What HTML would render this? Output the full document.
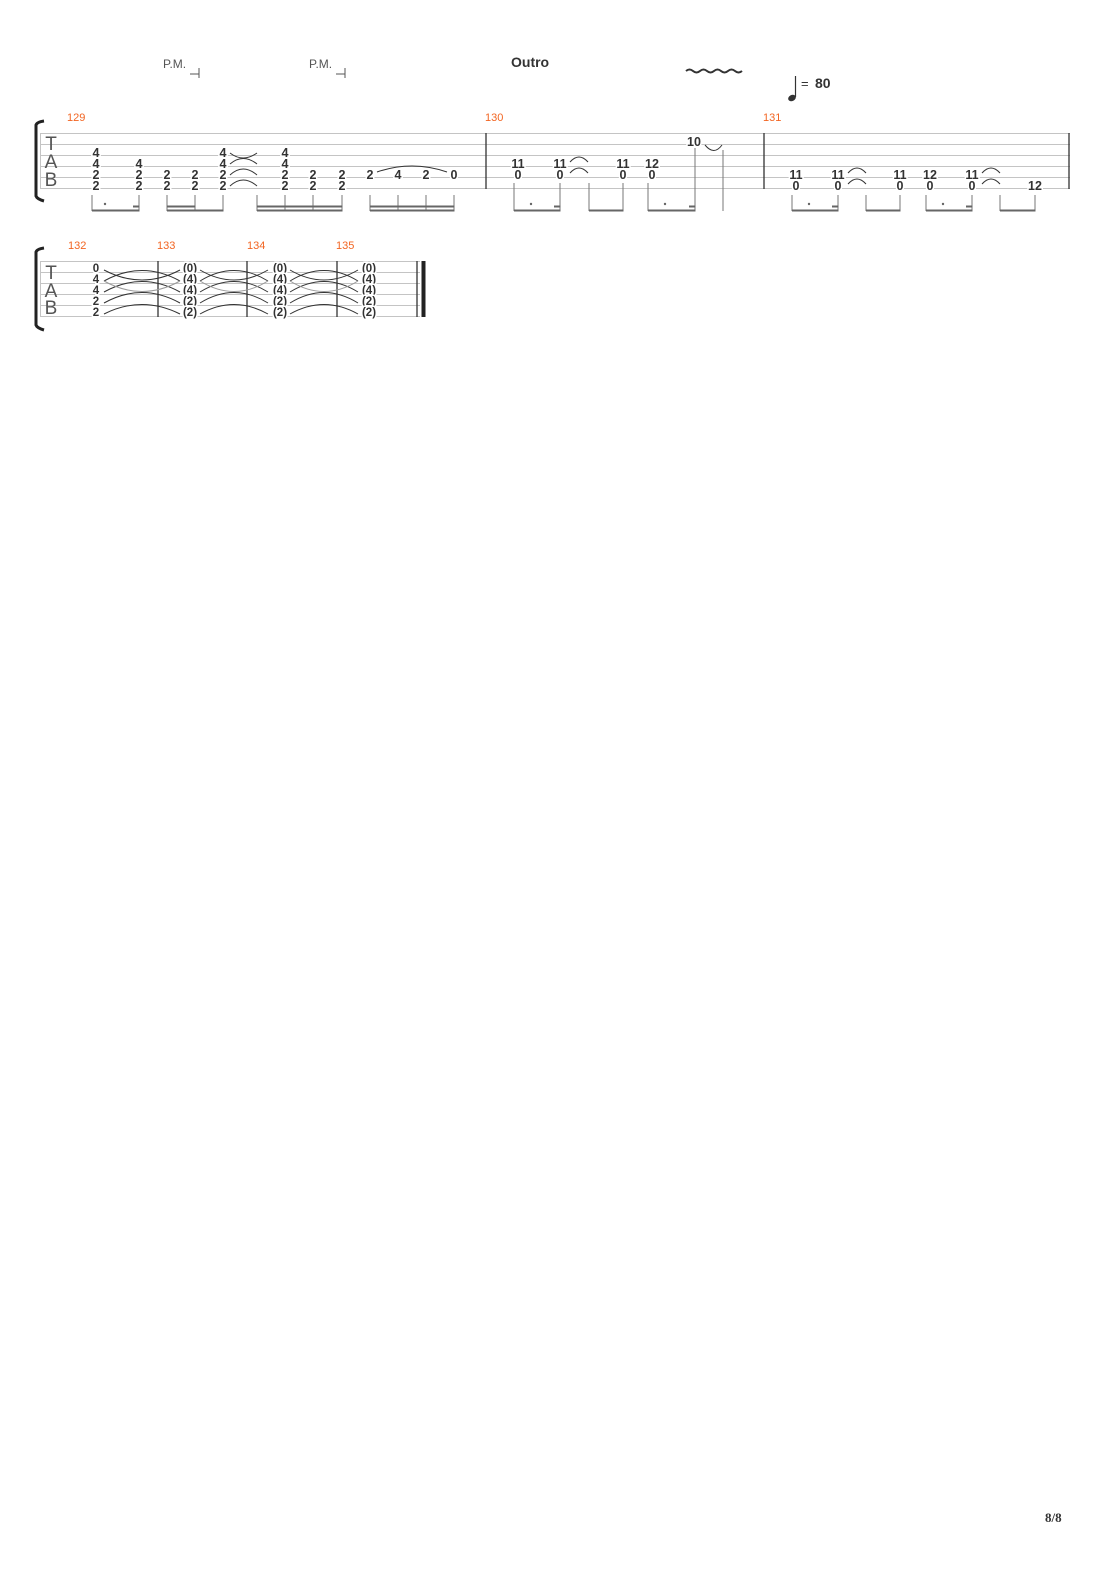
<!DOCTYPE html>
<html><head><meta charset="utf-8"><style>
html,body{margin:0;padding:0;background:#fff}
svg{display:block}
.n{font-family:"Liberation Sans",sans-serif;font-weight:bold;font-size:12.5px;fill:#333;stroke:#fff;stroke-width:3;paint-order:stroke;text-anchor:middle;dominant-baseline:central}
.m{font-size:11.5px}
.bn{font-family:"Liberation Sans",sans-serif;font-size:11px;fill:#f26522}
.sl{stroke:#c4c4c4;stroke-width:1}
.st{stroke:#777;stroke-width:1}
.tab{font-family:"Liberation Sans",sans-serif;font-size:19px;fill:#555;text-anchor:middle}
.tie{fill:none;stroke:#333;stroke-width:1}
</style></head><body>
<svg width="1110" height="1570" viewBox="0 0 1110 1570" xmlns="http://www.w3.org/2000/svg">
<!-- header -->
<text x="163" y="68" font-family="Liberation Sans,sans-serif" font-size="12" fill="#555">P.M.</text>
<path d="M190 74 H199 M199 68 V78" stroke="#555" fill="none"/>
<text x="309" y="68" font-family="Liberation Sans,sans-serif" font-size="12" fill="#555">P.M.</text>
<path d="M336 74 H345 M345 68 V78" stroke="#555" fill="none"/>
<text x="511" y="67" font-family="Liberation Sans,sans-serif" font-size="14" font-weight="bold" fill="#333">Outro</text>
<path d="M686 71 q3.5 -3 7 0 t7 0 t7 0 t7 0 t7 0 t7 0 t7 0 t7 0" stroke="#333" stroke-width="2" fill="none"/>
<ellipse cx="792" cy="98" rx="4" ry="3" fill="#333" transform="rotate(-25 792 98)"/>
<line x1="795.5" y1="97" x2="795.5" y2="76" stroke="#333" stroke-width="1.2"/>
<text x="801" y="88" font-family="Liberation Sans,sans-serif" font-size="13" fill="#333">=</text>
<text x="815" y="88" font-family="Liberation Sans,sans-serif" font-size="14" font-weight="bold" fill="#333">80</text>

<!-- staff 1 -->
<text class="bn" x="67" y="121">129</text>
<text class="bn" x="485" y="121">130</text>
<text class="bn" x="763" y="121">131</text>
<path d="M44 121 Q37 122 36 125 V196 Q37 199 44 201" stroke="#222" stroke-width="3" fill="none"/>
<g class="sl">
<line x1="40" y1="133.5" x2="1070" y2="133.5"/><line x1="40" y1="144.5" x2="1070" y2="144.5"/>
<line x1="40" y1="155.5" x2="1070" y2="155.5"/><line x1="40" y1="166.5" x2="1070" y2="166.5"/>
<line x1="40" y1="177.5" x2="1070" y2="177.5"/><line x1="40" y1="188.5" x2="1070" y2="188.5"/>
<line x1="40.5" y1="133" x2="40.5" y2="189"/>
</g>
<g stroke="#333" stroke-width="1.3"><line x1="486" y1="133" x2="486" y2="189"/><line x1="764" y1="133" x2="764" y2="189"/><line x1="1069" y1="133" x2="1069" y2="189"/></g>
<text class="tab" x="51" y="150">T</text><text class="tab" x="51" y="168">A</text><text class="tab" x="51" y="186">B</text>

<g class="n">
<text x="96" y="153">4</text><text x="96" y="164">4</text><text x="96" y="175">2</text><text x="96" y="186">2</text>
<text x="139" y="164">4</text><text x="139" y="175">2</text><text x="139" y="186">2</text>
<text x="167" y="175">2</text><text x="167" y="186">2</text>
<text x="195" y="175">2</text><text x="195" y="186">2</text>
<text x="223" y="153">4</text><text x="223" y="164">4</text><text x="223" y="175">2</text><text x="223" y="186">2</text>
<text x="285" y="153">4</text><text x="285" y="164">4</text><text x="285" y="175">2</text><text x="285" y="186">2</text>
<text x="313" y="175">2</text><text x="313" y="186">2</text>
<text x="342" y="175">2</text><text x="342" y="186">2</text>
<text x="370" y="175">2</text><text x="398" y="175">4</text><text x="426" y="175">2</text><text x="454" y="175">0</text>
<text x="518" y="164">11</text><text x="518" y="175">0</text>
<text x="560" y="164">11</text><text x="560" y="175">0</text>
<text x="623" y="164">11</text><text x="623" y="175">0</text>
<text x="652" y="164">12</text><text x="652" y="175">0</text>
<text x="694" y="142">10</text>
<text x="796" y="175">11</text><text x="796" y="186">0</text>
<text x="838" y="175">11</text><text x="838" y="186">0</text>
<text x="900" y="175">11</text><text x="900" y="186">0</text>
<text x="930" y="175">12</text><text x="930" y="186">0</text>
<text x="972" y="175">11</text><text x="972" y="186">0</text>
<text x="1035" y="186">12</text>
</g>
<g class="tie">
<path d="M230 153 Q243 163 257 153"/><path d="M230 164 Q243 153 257 164"/>
<path d="M230 175 Q243 163 257 175"/><path d="M230 186 Q243 174 257 186"/>
<path d="M377 172 Q412 160 447 172"/>
<path d="M570 162 Q579 152 588 162"/><path d="M570 173 Q579 163 588 173"/>
<path d="M705 145 Q714 156 722 145"/>
<path d="M848 173 Q857 163 866 173"/><path d="M848 184 Q857 174 866 184"/>
<path d="M982 173 Q991 163 1000 173"/><path d="M982 184 Q991 174 1000 184"/>
</g>
<!-- stems & beams staff1 -->
<g class="st">
<line x1="92" y1="195" x2="92" y2="211"/><line x1="139" y1="195" x2="139" y2="211"/>
<line x1="167" y1="195" x2="167" y2="211"/><line x1="195" y1="195" x2="195" y2="211"/><line x1="223" y1="195" x2="223" y2="211"/>
<line x1="257" y1="195" x2="257" y2="211"/><line x1="285" y1="195" x2="285" y2="211"/><line x1="313" y1="195" x2="313" y2="211"/><line x1="342" y1="195" x2="342" y2="211"/>
<line x1="370" y1="195" x2="370" y2="211"/><line x1="398" y1="195" x2="398" y2="211"/><line x1="426" y1="195" x2="426" y2="211"/><line x1="454" y1="195" x2="454" y2="211"/>
<line x1="514" y1="183" x2="514" y2="211"/><line x1="560" y1="183" x2="560" y2="211"/>
<line x1="589" y1="183" x2="589" y2="211"/><line x1="623" y1="183" x2="623" y2="211"/>
<line x1="648" y1="183" x2="648" y2="211"/><line x1="695" y1="148" x2="695" y2="211"/>
<line x1="723" y1="150" x2="723" y2="211"/>
<line x1="792" y1="195" x2="792" y2="211"/><line x1="838" y1="195" x2="838" y2="211"/>
<line x1="866" y1="195" x2="866" y2="211"/><line x1="900" y1="195" x2="900" y2="211"/>
<line x1="926" y1="195" x2="926" y2="211"/><line x1="972" y1="195" x2="972" y2="211"/>
<line x1="1000" y1="195" x2="1000" y2="211"/><line x1="1035" y1="195" x2="1035" y2="211"/>
</g>
<g fill="#666">
<rect x="92" y="209.5" width="47.5" height="2"/><rect x="133" y="205.5" width="6.5" height="2"/><circle cx="105" cy="204" r="1.2"/>
<rect x="167" y="209.5" width="56.5" height="2"/><rect x="167" y="205.5" width="28.5" height="2"/>
<rect x="257" y="209.5" width="85.5" height="2"/><rect x="257" y="205.5" width="85.5" height="2"/>
<rect x="370" y="209.5" width="84.5" height="2"/><rect x="370" y="205.5" width="84.5" height="2"/>
<rect x="514" y="209.5" width="46.5" height="2"/><rect x="554" y="205.5" width="6.5" height="2"/><circle cx="531" cy="204" r="1.2"/>
<rect x="589" y="209.5" width="34.5" height="2"/>
<rect x="648" y="209.5" width="47.5" height="2"/><rect x="689" y="205.5" width="6.5" height="2"/><circle cx="665" cy="204" r="1.2"/>
<rect x="792" y="209.5" width="46.5" height="2"/><rect x="832" y="205.5" width="6.5" height="2"/><circle cx="809" cy="204" r="1.2"/>
<rect x="866" y="209.5" width="34.5" height="2"/>
<rect x="926" y="209.5" width="46.5" height="2"/><rect x="966" y="205.5" width="6.5" height="2"/><circle cx="943" cy="204" r="1.2"/>
<rect x="1000" y="209.5" width="35.5" height="2"/>
</g>

<!-- staff 2 -->
<text class="bn" x="68" y="249">132</text>
<text class="bn" x="157" y="249">133</text>
<text class="bn" x="247" y="249">134</text>
<text class="bn" x="336" y="249">135</text>
<path d="M44 248 Q37 249 36 252 V325 Q37 328 44 330" stroke="#222" stroke-width="3" fill="none"/>
<g class="sl">
<line x1="40" y1="261.5" x2="420" y2="261.5"/><line x1="40" y1="272.5" x2="420" y2="272.5"/>
<line x1="40" y1="283.5" x2="420" y2="283.5"/><line x1="40" y1="294.5" x2="420" y2="294.5"/>
<line x1="40" y1="305.5" x2="420" y2="305.5"/><line x1="40" y1="316.5" x2="420" y2="316.5"/>
<line x1="40.5" y1="261" x2="40.5" y2="317"/>
</g>
<g stroke="#333" stroke-width="1.3"><line x1="158" y1="261" x2="158" y2="317"/><line x1="247" y1="261" x2="247" y2="317"/><line x1="337" y1="261" x2="337" y2="317"/><line x1="417" y1="261" x2="417" y2="317"/></g>
<rect x="421.5" y="261" width="4" height="56" fill="#222"/>
<text class="tab" x="51" y="279">T</text><text class="tab" x="51" y="297">A</text><text class="tab" x="51" y="314">B</text>
<g class="tie" stroke="#444">
<path d="M104 270 Q142 290 180 270"/><path d="M104 281 Q142 260 180 281"/>
<path d="M104 292 Q142 271 180 292"/><path d="M104 281 Q142 302 180 281" stroke="#999"/>
<path d="M104 303 Q142 282 180 303"/><path d="M104 314 Q142 295 180 314"/>
<path d="M200 270 Q234 290 268 270"/><path d="M200 281 Q234 260 268 281"/>
<path d="M200 292 Q234 271 268 292"/><path d="M200 281 Q234 302 268 281" stroke="#999"/>
<path d="M200 303 Q234 282 268 303"/><path d="M200 314 Q234 295 268 314"/>
<path d="M290 270 Q324 290 358 270"/><path d="M290 281 Q324 260 358 281"/>
<path d="M290 292 Q324 271 358 292"/><path d="M290 281 Q324 302 358 281" stroke="#999"/>
<path d="M290 303 Q324 282 358 303"/><path d="M290 314 Q324 295 358 314"/>
</g>
<g class="n m">
<text x="96" y="269">0</text><text x="96" y="280">4</text><text x="96" y="291">4</text><text x="96" y="302">2</text><text x="96" y="313">2</text>
<text x="190" y="269">(0)</text><text x="190" y="280">(4)</text><text x="190" y="291">(4)</text><text x="190" y="302">(2)</text><text x="190" y="313">(2)</text>
<text x="280" y="269">(0)</text><text x="280" y="280">(4)</text><text x="280" y="291">(4)</text><text x="280" y="302">(2)</text><text x="280" y="313">(2)</text>
<text x="369" y="269">(0)</text><text x="369" y="280">(4)</text><text x="369" y="291">(4)</text><text x="369" y="302">(2)</text><text x="369" y="313">(2)</text>
</g>
<text x="1045" y="1522" font-family="Liberation Serif,serif" font-size="13" font-weight="bold" fill="#333">8/8</text>
</svg>
</body></html>
